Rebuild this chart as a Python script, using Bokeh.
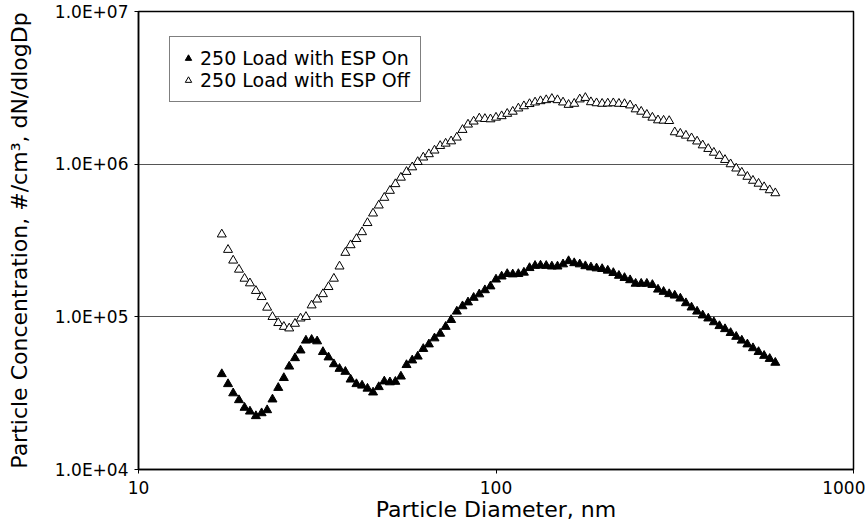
from bokeh.plotting import figure
from bokeh.models import FixedTicker, CustomJSTickFormatter, Range1d
from bokeh.embed import file_html
from bokeh.resources import INLINE

# Particle diameters (nm), SMPS channel midpoints
diameter_nm = [
    17.1, 17.8, 18.4, 19.1, 19.8, 20.5, 21.3, 22.1, 22.9, 23.7,
    24.6, 25.5, 26.4, 27.4, 28.4, 29.4, 30.5, 31.6, 32.8, 34.0,
    35.2, 36.5, 37.9, 39.2, 40.7, 42.2, 43.7, 45.3, 47.0, 48.7,
    50.5, 52.3, 54.2, 56.2, 58.3, 60.4, 62.6, 64.9, 67.3, 69.8,
    72.3, 74.9, 77.7, 80.6, 83.5, 86.6, 89.8, 93.1, 96.5, 100.0,
    103.7, 107.5, 111.4, 115.5, 119.7, 124.1, 128.6, 133.2, 138.2, 143.3,
    148.6, 154.0, 159.6, 165.5, 171.5, 177.8, 184.3, 191.1, 198.1, 205.4,
    212.9, 220.7, 228.8, 237.2, 245.8, 254.8, 264.2, 273.8, 283.9, 294.3,
    305.1, 316.2, 327.8, 339.8, 352.3, 365.2, 378.6, 392.4, 406.8, 421.7,
    437.1, 453.2, 469.8, 487.0, 504.8, 523.3, 542.5, 562.3, 582.9, 604.3,
]

# dN/dlogDp, 250 Load with ESP On (filled triangles)
esp_on = [
    4.22e4, 3.63e4, 3.16e4, 2.85e4, 2.54e4, 2.40e4, 2.24e4, 2.34e4, 2.45e4, 2.88e4,
    3.43e4, 3.98e4, 4.73e4, 5.37e4, 6.03e4, 7.00e4, 7.08e4, 6.92e4, 5.89e4, 5.43e4,
    4.90e4, 4.57e4, 4.37e4, 3.89e4, 3.63e4, 3.55e4, 3.39e4, 3.20e4, 3.47e4, 3.78e4,
    3.73e4, 3.76e4, 4.07e4, 4.84e4, 5.19e4, 5.50e4, 6.17e4, 6.61e4, 7.24e4, 7.76e4,
    8.61e4, 9.55e4, 1.084e5, 1.175e5, 1.245e5, 1.334e5, 1.406e5, 1.496e5, 1.585e5, 1.758e5,
    1.84e5, 1.91e5, 1.90e5, 1.91e5, 1.95e5, 2.09e5, 2.16e5, 2.17e5, 2.16e5, 2.14e5,
    2.14e5, 2.21e5, 2.32e5, 2.25e5, 2.21e5, 2.15e5, 2.11e5, 2.08e5, 2.06e5, 2.01e5,
    1.94e5, 1.86e5, 1.80e5, 1.74e5, 1.65e5, 1.65e5, 1.65e5, 1.62e5, 1.51e5, 1.46e5,
    1.41e5, 1.38e5, 1.32e5, 1.23e5, 1.153e5, 1.084e5, 1.023e5, 9.77e4, 9.23e4, 8.71e4,
    8.32e4, 7.85e4, 7.41e4, 7.00e4, 6.61e4, 6.24e4, 5.89e4, 5.56e4, 5.31e4, 5.01e4,
]

# dN/dlogDp, 250 Load with ESP Off (open triangles)
esp_off = [
    3.47e5, 2.75e5, 2.34e5, 2.04e5, 1.78e5, 1.66e5, 1.48e5, 1.35e5, 1.15e5, 1.00e5,
    9.12e4, 8.61e4, 8.41e4, 9.02e4, 9.77e4, 1.00e5, 1.19e5, 1.30e5, 1.41e5, 1.57e5,
    1.78e5, 2.14e5, 2.63e5, 2.95e5, 3.24e5, 3.59e5, 4.12e5, 4.76e5, 5.37e5, 6.03e5,
    6.70e5, 7.41e5, 8.17e5, 8.91e5, 9.55e5, 1.035e6, 1.107e6, 1.164e6, 1.23e6, 1.318e6,
    1.365e6, 1.413e6, 1.496e6, 1.679e6, 1.82e6, 1.905e6, 1.995e6, 1.98e6, 1.97e6, 2.02e6,
    2.065e6, 2.14e6, 2.21e6, 2.32e6, 2.40e6, 2.48e6, 2.54e6, 2.59e6, 2.63e6, 2.68e6,
    2.63e6, 2.54e6, 2.45e6, 2.49e6, 2.66e6, 2.72e6, 2.55e6, 2.51e6, 2.49e6, 2.50e6,
    2.51e6, 2.49e6, 2.48e6, 2.43e6, 2.29e6, 2.21e6, 2.11e6, 2.02e6, 1.94e6, 1.93e6,
    1.92e6, 1.62e6, 1.585e6, 1.54e6, 1.48e6, 1.41e6, 1.33e6, 1.26e6, 1.19e6, 1.135e6,
    1.067e6, 1.00e6, 9.38e5, 8.81e5, 8.28e5, 7.80e5, 7.46e5, 7.08e5, 6.76e5, 6.46e5,
]

x_ticks = [10, 100, 1000]
y_ticks = [1e4, 1e5, 1e6, 1e7]

FONT = "DejaVu Sans"

p = figure(
    width=865, height=529,
    x_axis_type="log", y_axis_type="log",
    x_range=Range1d(10, 1000), y_range=Range1d(1e4, 1e7),
    output_backend="svg", toolbar_location=None,
    min_border_left=138, min_border_right=12,
    min_border_top=11, min_border_bottom=60,
)
p.background_fill_color = "white"
p.border_fill_color = "white"
p.outline_line_color = "black"
p.outline_line_width = 1.5

p.xaxis.ticker = FixedTicker(ticks=x_ticks)
p.yaxis.ticker = FixedTicker(ticks=y_ticks)
p.xaxis.formatter = CustomJSTickFormatter(code="return String(Math.round(tick));")
p.yaxis.formatter = CustomJSTickFormatter(code="""
const e = Math.round(Math.log10(tick));
const m = tick / Math.pow(10, e);
const s = (e < 0 ? '-' : '+') + String(Math.abs(e)).padStart(2, '0');
return m.toFixed(1) + 'E' + s;
""")

for ax in (p.xaxis, p.yaxis):
    ax.axis_line_color = "black"
    ax.axis_line_width = 1.5
    ax.major_tick_line_color = "black"
    ax.major_tick_out = 4
    ax.major_tick_in = 0
    ax.minor_tick_line_color = None
    ax.major_label_text_font = FONT
    ax.major_label_text_font_size = "17px"
    ax.major_label_text_color = "black"
    ax.axis_label_text_font = FONT
    ax.axis_label_text_font_size = "22px"
    ax.axis_label_text_font_style = "normal"
    ax.axis_label_text_color = "black"

p.xaxis.axis_label = "Particle Diameter, nm"
p.yaxis.axis_label = "Particle Concentration, #/cm\u00b3, dN/dlogDp"
p.xaxis.major_label_standoff = 7
p.yaxis.major_label_standoff = 6
p.xaxis.axis_label_standoff = 0
p.yaxis.axis_label_standoff = 20

p.xgrid.grid_line_color = None
p.ygrid.grid_line_color = "#555555"
p.ygrid.grid_line_width = 1

p.scatter(diameter_nm, esp_on, marker="triangle", size=9,
          fill_color="black", line_color="black", line_width=1,
          legend_label="250 Load with ESP On")
p.scatter(diameter_nm, esp_off, marker="triangle", size=9,
          fill_color="white", line_color="black", line_width=1,
          legend_label="250 Load with ESP Off")

lg = p.legend[0]
lg.location = (31, 367)
lg.border_line_color = "black"
lg.border_line_width = 1.5
lg.background_fill_color = "white"
lg.background_fill_alpha = 1
lg.label_text_font = FONT
lg.label_text_font_size = "19px"
lg.label_text_color = "black"
lg.padding = 10
lg.spacing = 0
lg.margin = 0
lg.label_height = 22
lg.glyph_height = 22
lg.glyph_width = 16
lg.label_standoff = 4

open("out.html", "w").write(file_html(p, INLINE))
